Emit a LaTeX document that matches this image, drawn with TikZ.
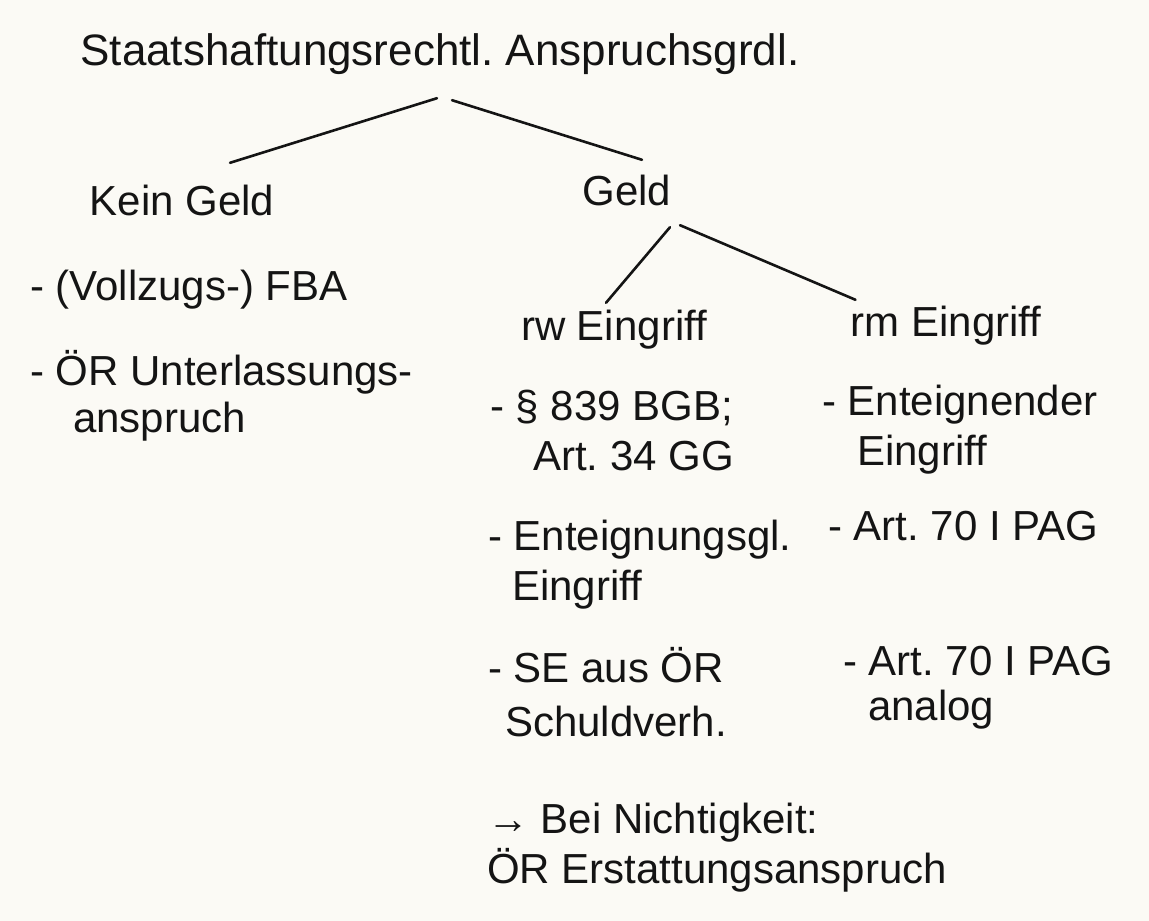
\documentclass[tikz,border=0pt]{standalone}
\usepackage{fontspec}
\setmainfont{Liberation Sans}
\usepackage{tikz}
\frenchspacing
\definecolor{paper}{HTML}{FBFAF5}
\definecolor{ink}{HTML}{141414}
\tikzset{
    word/.style={anchor=base west,inner sep=0pt,text height=30pt,text depth=9pt,text=ink,font=\fontsize{42}{50}\selectfont},
    head/.style={word,anchor=base},
    branch/.style={draw=ink,line width=2.6pt,line cap=round}
}

\begin{document}
\begin{tikzpicture}[x=1pt,y=-1pt]
    \fill[paper] (0,0) rectangle (1149,921);
    \useasboundingbox (0,0) rectangle (1149,921);
    % Kopf und erste Ebene
    \node[head,font=\fontsize{44}{50}\selectfont] (title) at (440,65) {Staatshaftungsrechtl. Anspruchsgrdl.};
    \node[head] (kein) at (182,215) {Kein Geld};
    \node[head] (geld) at (627,205) {Geld};
    \node[head] (rw) at (614,340) {rw Eingriff};
    \node[head] (rm) at (946,336) {rm Eingriff};
    \draw[branch] ([xshift=-3pt,yshift=-24pt]title.south) -- ([xshift=48pt,yshift=22pt]kein.north);
    \draw[branch] ([xshift=12pt,yshift=-26pt]title.south) -- ([xshift=15pt,yshift=15pt]geld.north);
    \draw[branch] ([xshift=43pt,yshift=-13pt]geld.south) -- ([xshift=-8pt,yshift=7pt]rw.north);
    \draw[branch] ([xshift=53pt,yshift=-11pt]geld.south) -- ([xshift=5pt,yshift=6pt]rm.north west);
    % Kein Geld
    \node[word] (fba) at (30,300) {- (Vollzugs-) FBA};
    \node[word] (unt) at (30,385) {- ÖR Unterlassungs-};
    \node[word] (untb) at (73,432) {anspruch};
    % rw Eingriff
    \node[word] (amt) at (490,420) {- § 839 BGB;};
    \node[word] (amtb) at (533,470) {Art. 34 GG};
    \node[word] (egl) at (488,550) {- Enteignungsgl.};
    \node[word] (eglb) at (512,600) {Eingriff};
    \node[word] (se) at (488,682) {- SE aus ÖR};
    \node[word] (seb) at (505,736) {Schuldverh.};
    % rm Eingriff
    \node[word] (ent) at (822,415) {- Enteignender};
    \node[word] (entb) at (857,465) {Eingriff};
    \node[word] (pag) at (828,540) {- Art. 70 I PAG};
    \node[word] (pagb) at (843,675) {- Art. 70 I PAG};
    \node[word] (pagc) at (868,720) {analog};
    % Nichtigkeit
    \node[word] (nicht) at (487,833) {→ Bei Nichtigkeit:};
    \node[word] (erst) at (487,883) {ÖR Erstattungsanspruch};
\end{tikzpicture}
\end{document}
